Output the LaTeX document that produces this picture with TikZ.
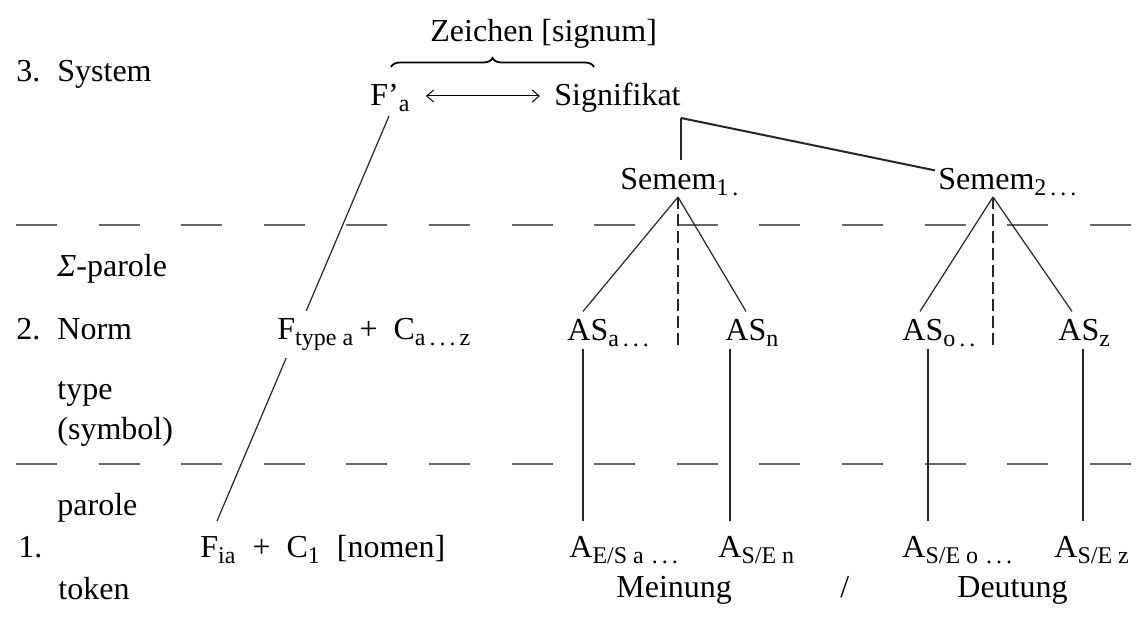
\documentclass[tikz,border=0pt]{standalone}
\usepackage{fontspec}
\setmainfont{Liberation Serif}
\usetikzlibrary{arrows.meta,calc,backgrounds,decorations.pathreplacing}
\newcommand{\sbs}[1]{\textsubscript{\fontsize{12}{12}\selectfont #1}}

\begin{document}
\begin{tikzpicture}[x=0.5pt,y=-0.5pt,font=\fontsize{16}{19}\selectfont,
  lbl/.style={anchor=base west,inner sep=4pt},
  ln/.style={line width=0.6pt,black!85},
  ar/.style={{Straight Barb[length=3.5pt,width=6pt]}-{Straight Barb[length=3.5pt,width=6pt]},line width=0.5pt},
  dsh/.style={line width=1.3pt,black!60,dash pattern=on 20.5pt off 20.8pt},
  vd/.style={line width=0.6pt,black!85,dash pattern=on 6pt off 2.5pt}]
\useasboundingbox (0,0) rectangle (1136,619);
% level separators
\draw[dsh] (16,225) -- (1136,225);
\draw[dsh] (16,464) -- (1136,464);
% left column
\node[lbl] (num3) at (8,82) {3.};
\node[lbl] (sys) at (49,82) {System};
\node[lbl] (spar) at (49,277) {{\itshape Σ}-parole};
\node[lbl] (num2) at (8,340) {2.};
\node[lbl] (norm) at (49,340) {Norm};
\node[lbl] (typ) at (49,400) {type};
\node[lbl] (sym) at (49,440) {(symbol)};
\node[lbl] (par) at (49,516) {parole};
\node[lbl] (num1) at (10,558) {1.};
\node[lbl] (tok) at (50,600) {token};
% System
\node[lbl] (zei) at (422,42) {Zeichen [signum]};
\draw[line width=0.9pt,decorate,decoration={brace,amplitude=4.5pt}] (391,67) -- (594,67);
\node[lbl] (fa) at (362,106) {F'\sbs{a}};
\node[lbl] (sig) at (546,106) {Signifikat};
\draw[ar] ($(fa.base east)+(3.5pt,5pt)$) -- ($(sig.base west)+(-3pt,5pt)$);
\node[lbl] (sem1) at (612,190) {Semem\sbs{1\,.}};
\node[lbl] (sem2) at (930,190) {Semem\sbs{2\,.\,.\,.}};
\coordinate (knee) at ($(sig.base east)+(-4pt,-6pt)$);
\draw[ln] (knee) -- (knee |- sem1.north);
\draw[ln,line width=1pt] (knee) -- ($(sem2.north west)+(2.5pt,-5pt)$);
\coordinate (ap1) at ($(sem1.base west)+(33pt,-3.5pt)$);
\coordinate (ap2) at ($(sem2.base west)+(31.5pt,-3.5pt)$);
% Norm
\node[lbl,fill=white] (ftype) at (269,340) {F\sbs{type a}\,+\enspace C\sbs{a\,.\,.\,.\,z}};
\node[lbl] (asa) at (559,341) {AS\sbs{a\,.\,.\,.}};
\node[lbl] (asn) at (717,341) {AS\sbs{n}};
\node[lbl] (aso) at (894,341) {AS\sbs{o\,.\,.}};
\node[lbl] (asz) at (1050,341) {AS\sbs{z}};
\draw[ln] (ap1) -- ($(asa.north west)+(12pt,0)$);
\draw[ln] (ap1) -- ($(asn.north west)+(14.5pt,0)$);
\draw[vd] (ap1) -- ($(ap1 |- asa.base)+(0,-3pt)$);
\draw[ln] (ap2) -- ($(aso.north west)+(13pt,0)$);
\draw[ln] (ap2) -- ($(asz.north west)+(11pt,0)$);
\draw[vd] (ap2) -- ($(ap2 |- aso.base)+(0,-3pt)$);
% parole / token
\node[lbl] (fia) at (192,558) {F\sbs{ia}\enspace+\enspace C\sbs{1}\enspace[nomen]};
\node[lbl] (tea) at (561,558) {A\sbs{E/S a\,\,.\,.\,.}};
\node[lbl] (ten) at (710,558) {A\sbs{S/E n}};
\node[lbl] (teo) at (894,558) {A\sbs{S/E o\,\,.\,.\,.}};
\node[lbl] (tez) at (1046,558) {A\sbs{S/E z}};
\node[lbl] (mei) at (608,598) {Meinung};
\node[lbl] (sl) at (832,598) {/};
\node[lbl] (deu) at (949,598) {Deutung};
\coordinate (va) at ($(asa.base west)+(12pt,-4pt)$);
\coordinate (vn) at ($(asn.base west)+(6.5pt,-4pt)$);
\coordinate (vo) at ($(aso.base west)+(17pt,-4pt)$);
\coordinate (vz) at ($(asz.base west)+(16.5pt,-4pt)$);
\draw[ln] (va) -- ($(va |- tea.north)+(0,3.5pt)$);
\draw[ln] (vn) -- ($(vn |- ten.north)+(0,3.5pt)$);
\draw[ln] (vo) -- ($(vo |- teo.north)+(0,3.5pt)$);
\draw[ln] (vz) -- ($(vz |- tez.north)+(0,3.5pt)$);
% form line, hidden behind the Norm node
\begin{scope}[on background layer]
\draw[ln] ($(fa.base west)+(13.5pt,-5pt)$) -- ($(fia.base west)+(12.5pt,18.5pt)$);
\end{scope}
\end{tikzpicture}
\end{document}
